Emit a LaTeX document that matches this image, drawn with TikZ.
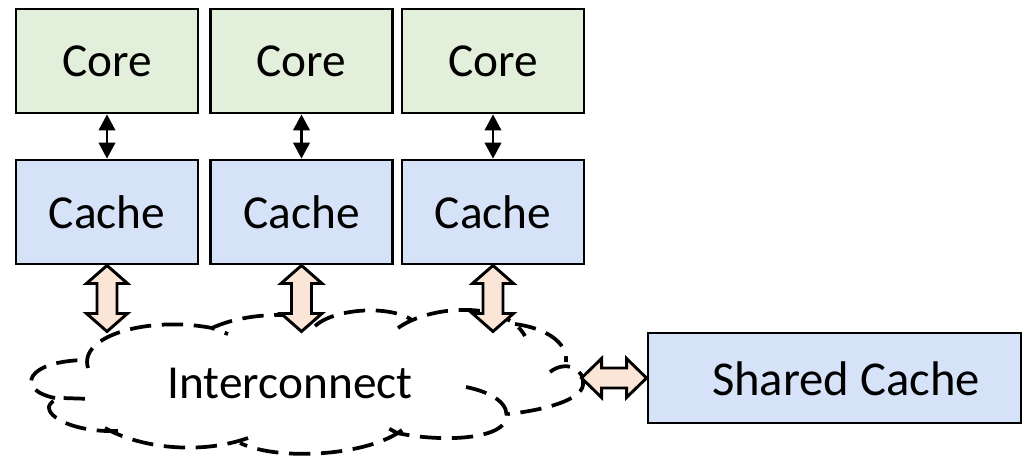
\documentclass[tikz,border=0pt]{standalone}
\usepackage{fontspec}
\setmainfont{Carlito}
\usetikzlibrary{arrows.meta}
\definecolor{coregreen}{HTML}{E2EFDA}
\definecolor{cacheblue}{HTML}{D6E2F8}
\definecolor{fatfill}{HTML}{FBE5D6}
\begin{document}
\begin{tikzpicture}[x=0.75pt,y=-0.75pt,
  font=\fontsize{35.5}{42}\selectfont,
  box/.style={draw=black, line width=2.2pt, minimum width=136.5pt, minimum height=78pt, inner sep=0pt},
  corebox/.style={box, fill=coregreen},
  cachebox/.style={box, fill=cacheblue},
  sharedbox/.style={box, fill=cacheblue, minimum width=279.75pt, minimum height=67.5pt},
  thinarrow/.style={{Triangle[width=12.5pt,length=12pt]}-{Triangle[width=12.5pt,length=12pt]}, line width=1.6pt},
  fatarrow/.style={draw=black, line width=2.2pt, fill=fatfill, line join=miter},
  cloudline/.style={line width=2.8pt, dash pattern=on 16pt off 8pt}]
\path[use as bounding box] (0,0) rectangle (1028,458);

% cores and private caches
\node[corebox] (core1) at (107,61) {Core};
\node[corebox] (core2) at (301.5,61) {Core};
\node[corebox] (core3) at (493,61) {Core};
\node[cachebox] (cache1) at (107,212) {Cache};
\node[cachebox] (cache2) at (301.5,212) {Cache};
\node[cachebox] (cache3) at (493,212) {Cache};

\draw[thinarrow] (core1) -- (cache1);
\draw[thinarrow] (core2) -- (cache2);
\draw[thinarrow] (core3) -- (cache3);

% interconnect cloud
\draw[cloudline] (88,368) .. controls (78,335) and (150,316) .. (212,328) -- (228,334);
\draw[cloudline] (212,328) .. controls (240,315) and (280,312) .. (310,318);
\draw[cloudline] (315,326) .. controls (335,308) and (390,305) .. (412,320);
\draw[cloudline] (398,328) .. controls (430,305) and (505,300) .. (525,336);
\draw[cloudline] (515,324) .. controls (545,328) and (568,342) .. (566,362);
\draw[cloudline] (550,372) .. controls (565,360) and (585,368) .. (583,385) .. controls (581,400) and (545,410) .. (508,414);
\draw[cloudline] (466,387) .. controls (495,393) and (510,405) .. (506,420) .. controls (498,440) and (440,442) .. (397,433) -- (388,428);
\draw[cloudline] (402,430) .. controls (370,455) and (280,462) .. (240,443);
\draw[cloudline] (248,438) .. controls (200,455) and (140,448) .. (105,428);
\draw[cloudline] (118,431) .. controls (60,433) and (30,405) .. (62,398) -- (93,399);
\draw[cloudline] (55,398) .. controls (15,390) and (25,360) .. (88,360);

\node (ic) at (290,383) {Interconnect};

% shared cache
\node[sharedbox] (shared) at (834.5,378) {};
\node[font=\fontsize{36.5}{42}\selectfont] (sharedlabel) at (846,379) {Shared Cache};

% fat arrows
\draw[fatarrow] (cache1.south) -- ++(20.5,18) -- ++(-10.5,0) -- ++(0,30) -- ++(10.5,0) -- ++(-20.5,18) coordinate (f1) -- ++(-20.5,-18) -- ++(10.5,0) -- ++(0,-30) -- ++(-10.5,0) -- cycle;
\draw[fatarrow] (cache2.south) -- ++(20.5,18) -- ++(-10.5,0) -- ++(0,30) -- ++(10.5,0) -- ++(-20.5,18) coordinate (f2) -- ++(-20.5,-18) -- ++(10.5,0) -- ++(0,-30) -- ++(-10.5,0) -- cycle;
\draw[fatarrow] (cache3.south) -- ++(20.5,18) -- ++(-10.5,0) -- ++(0,30) -- ++(10.5,0) -- ++(-20.5,18) coordinate (f3) -- ++(-20.5,-18) -- ++(10.5,0) -- ++(0,-30) -- ++(-10.5,0) -- cycle;
\draw[fatarrow] (shared.west) -- ++(-20,-19.5) -- ++(0,9.5) -- ++(-25,0) -- ++(0,-9.5) -- ++(-20,19.5) coordinate (f4) -- ++(20,19.5) -- ++(0,-9.5) -- ++(25,0) -- ++(0,9.5) -- cycle;
\end{tikzpicture}
\end{document}
